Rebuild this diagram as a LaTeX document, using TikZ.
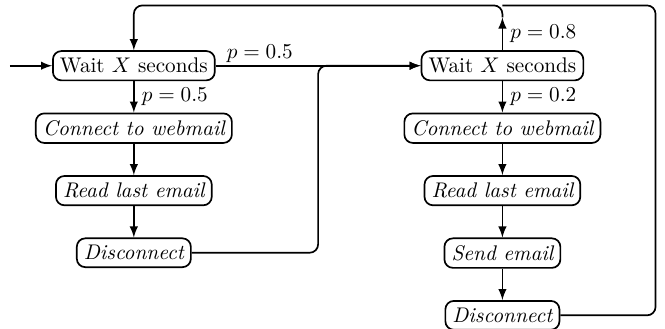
\documentclass[tikz,border=0pt]{standalone}
\usepackage{amsmath,amssymb}
\usepackage{tikz}
\usetikzlibrary{calc,positioning,arrows,chains}
\tikzset{
>=latex,
  waitbox/.style={
    rectangle,
    rounded corners,
    draw=black, thick,
    text centered},
  taskbox/.style={
    waitbox,
    font=\itshape,
    on chain},
  every join/.style={->, thick},
  line/.style={draw, thick, rounded corners=4pt},
}
\begin{document}
\begin{tikzpicture}
  [node distance=5.2mm,
  start chain=1 going below,start chain=2 going below]
  \useasboundingbox (-2.22,1.09) rectangle (8.81,-4.36);
     \node[waitbox, on chain=1] (wait1) at (0,0) {Wait $X$ seconds};
     \node[taskbox, on chain=1] (connect1) {Connect to webmail};
     \node[taskbox, join, on chain=1] (read1) {Read last email};
     \node[taskbox, join, on chain=1] (disc1) {Disconnect};

     \node[waitbox, right=3.4cm of wait1, on chain=2] (wait2) {Wait $X$ seconds};
     \node[taskbox, on chain=2] (connect2) {Connect to webmail};
     \node[taskbox, join, on chain=2] (read2) {Read last email};
     \node[taskbox, join, on chain=2] (send2) {Send email};
     \node[taskbox, join, on chain=2] (disc2) {Disconnect};

\coordinate[left=0.7cm of wait1.west] (entry);
\coordinate (up2) at ($(wait2.center)+(0,0.8)$);
\coordinate (top1) at ($(wait1.center)+(0,1)$);
\coordinate (corner) at ($(wait2.center)+(2.54,1)$);
\coordinate (top2) at ($(wait2.center)+(0,1)$);
\coordinate (merge) at ($(wait1.east)!0.5!(wait2.west)$);

\draw[->, thick] (entry) -- (wait1.west);
\draw[->, thick] (wait1) -- node[right] {$p = 0.5$} (connect1);
\draw[->, thick] (wait2) -- node[right] {$p = 0.2$} (connect2);
\draw[->, thick] (wait1.east) -- node[pos=0.04, anchor=south west, inner sep=1pt] {$p = 0.5$} (wait2.west);
\draw[->, thick] (wait2.north) -- node[right] {$p = 0.8$} (up2);
\draw[->, line] (up2) |- (top1) -- (wait1.north);
\draw[line] (disc2.east) -| (corner) -- (top2);
\draw[->, line] (disc1.east) -| (merge) -- (wait2.west);
  \end{tikzpicture}
\end{document}
